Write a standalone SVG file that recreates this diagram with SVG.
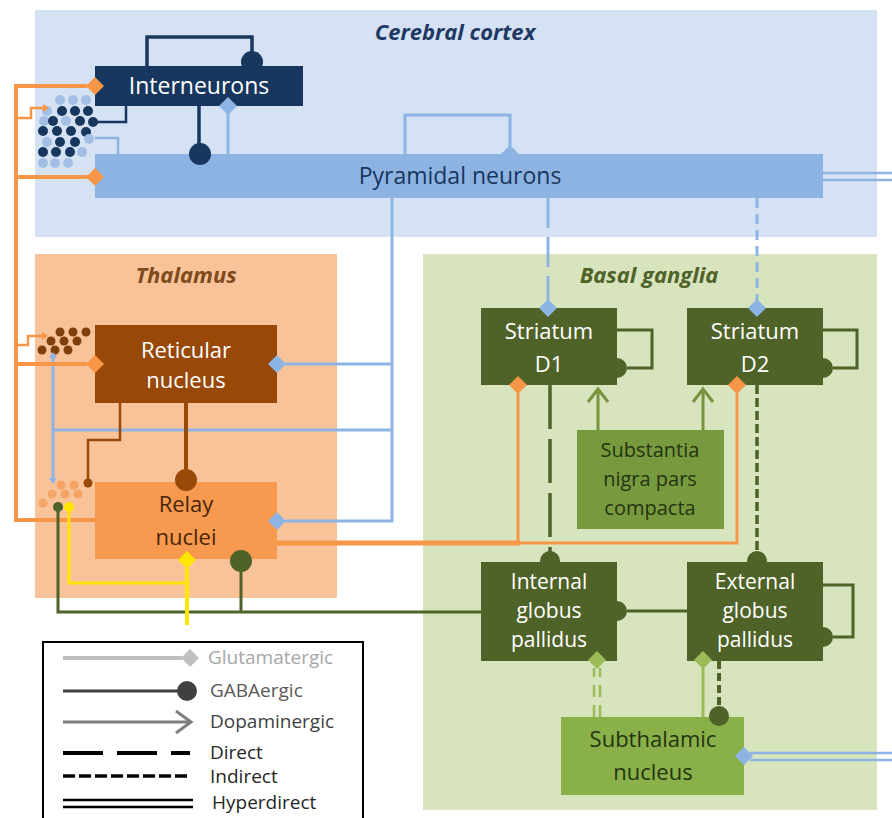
<svg xmlns="http://www.w3.org/2000/svg" width="892" height="818" viewBox="0 0 892 818">
<style>
text{font-family:"Open Sans","Liberation Sans",sans-serif;}
.lbl{font-size:22px;text-anchor:middle;}
.title{font-size:22px;font-weight:bold;font-style:italic;text-anchor:middle;}
.leg{font-size:19px;}
.ln{fill:none;stroke-linejoin:miter;}
.navy{stroke:#17375e;stroke-width:3.5;}
.blue{stroke:#8eb4e3;stroke-width:3;}
.orng{stroke:#f79646;stroke-width:4;}
.orth{stroke:#f79646;stroke-width:2.5;}
.brwn{stroke:#984807;stroke-width:4;}
.brth{stroke:#984807;stroke-width:2.5;}
.dg{stroke:#4f6228;stroke-width:3;}
.lg{stroke:#9bbb59;stroke-width:3;}
.sn{stroke:#77933c;stroke-width:3;}
.yel{stroke:#ffe600;stroke-width:4;}
.fnavy{fill:#17375e;}
.fblue{fill:#8eb4e3;}
.forng{fill:#f79646;}
.fbrwn{fill:#984807;}
.fdg{fill:#4f6228;}
.flg{fill:#9bbb59;}
.fyel{fill:#ffe600;}
.dn{fill:#17375e;}
.dl{fill:#a3bfe6;}
.db{fill:#7f3f0a;}
.do{fill:#f3a466;}
</style>
<defs>
<path id="dia" d="M0,-9 L9,0 L0,9 L-9,0Z"/>
</defs>
<rect width="892" height="818" fill="#ffffff"/>
<g id="regions">
<rect id="cortex" x="35" y="10" width="842" height="227" fill="#d5e2f3"/>
<text class="title" x="455" y="40" fill="#1f3864">Cerebral cortex</text>
<rect id="thalamus" x="35" y="254" width="302" height="344" fill="#f9c39a"/>
<text class="title" x="186" y="283" fill="#7f4a1c">Thalamus</text>
<rect id="basal-ganglia" x="423" y="254" width="454" height="556" fill="#d7e4bd"/>
<text class="title" x="649" y="283" fill="#4f6228">Basal ganglia</text>
</g>
<g id="interneurons">
<rect x="95" y="66" width="208" height="40" fill="#17375e"/>
<text class="lbl" x="199" y="94" fill="#ffffff" style="font-size:23px">Interneurons</text>
</g>
<g id="pyramidal">
<rect x="95" y="154" width="728" height="44" fill="#8db3e2"/>
<text class="lbl" x="460" y="184" fill="#17375e" style="font-size:23px">Pyramidal neurons</text>
</g>
<g id="reticular">
<rect x="95" y="325" width="182" height="78" fill="#984807"/>
<text class="lbl" x="186" y="358" fill="#ffffff">Reticular</text>
<text class="lbl" x="186" y="388" fill="#ffffff">nucleus</text>
</g>
<g id="relay">
<rect x="95" y="482" width="182" height="77" fill="#f79a50"/>
<text class="lbl" x="186" y="512" fill="#4a2508">Relay</text>
<text class="lbl" x="186" y="545" fill="#4a2508">nuclei</text>
</g>
<g id="striatum-d1">
<rect x="481" y="308" width="136" height="77" fill="#4f6228"/>
<text class="lbl" x="549" y="339" fill="#ffffff">Striatum</text>
<text class="lbl" x="549" y="372" fill="#ffffff">D1</text>
</g>
<g id="striatum-d2">
<rect x="687" y="308" width="136" height="77" fill="#4f6228"/>
<text class="lbl" x="755" y="339" fill="#ffffff">Striatum</text>
<text class="lbl" x="755" y="372" fill="#ffffff">D2</text>
</g>
<g id="snc">
<rect x="577" y="430" width="147" height="99" fill="#789a3e"/>
<text class="lbl" x="650" y="457" fill="#243410" style="font-size:20px">Substantia</text>
<text class="lbl" x="650" y="486" fill="#243410" style="font-size:20px">nigra pars</text>
<text class="lbl" x="650" y="515" fill="#243410" style="font-size:20px">compacta</text>
</g>
<g id="gpi">
<rect x="481" y="562" width="136" height="99" fill="#4f6228"/>
<text class="lbl" x="549" y="589" fill="#ffffff" style="font-size:21px">Internal</text>
<text class="lbl" x="549" y="618" fill="#ffffff" style="font-size:21px">globus</text>
<text class="lbl" x="549" y="647" fill="#ffffff" style="font-size:21px">pallidus</text>
</g>
<g id="gpe">
<rect x="687" y="562" width="136" height="99" fill="#4f6228"/>
<text class="lbl" x="755" y="589" fill="#ffffff" style="font-size:21px">External</text>
<text class="lbl" x="755" y="618" fill="#ffffff" style="font-size:21px">globus</text>
<text class="lbl" x="755" y="647" fill="#ffffff" style="font-size:21px">pallidus</text>
</g>
<g id="stn">
<rect x="561" y="717" width="183" height="78" fill="#8ab04a"/>
<text class="lbl" x="653" y="747" fill="#243410">Subthalamic</text>
<text class="lbl" x="653" y="780" fill="#243410">nucleus</text>
</g>
<g id="dots">
<circle class="dl" cx="60" cy="100" r="5"/><circle class="dl" cx="73" cy="100" r="5"/><circle class="dl" cx="86" cy="100" r="5"/>
<circle class="dl" cx="47" cy="111" r="5"/><circle class="dn" cx="62" cy="111" r="5"/><circle class="dn" cx="75" cy="111" r="5"/><circle class="dn" cx="88" cy="111" r="5"/>
<circle class="dl" cx="44" cy="121" r="5"/><circle class="dn" cx="53" cy="121" r="5"/><circle class="dl" cx="66" cy="121" r="5"/><circle class="dn" cx="80" cy="121" r="5"/><circle class="dn" cx="93" cy="122" r="5"/>
<circle class="dn" cx="43" cy="131" r="5"/><circle class="dn" cx="57" cy="131" r="5"/><circle class="dn" cx="71" cy="131" r="5"/><circle class="dn" cx="86" cy="132" r="5"/>
<circle class="dl" cx="47" cy="142" r="5"/><circle class="dn" cx="60" cy="142" r="5"/><circle class="dn" cx="75" cy="142" r="5"/><circle class="dl" cx="89" cy="139" r="5"/>
<circle class="dn" cx="43" cy="152" r="5"/><circle class="dn" cx="56" cy="152" r="5"/><circle class="dn" cx="70" cy="152" r="5"/><circle class="dl" cx="82" cy="152" r="5"/>
<circle class="dl" cx="43" cy="163" r="5"/><circle class="dl" cx="55" cy="163" r="5"/><circle class="dl" cx="68" cy="163" r="5"/>
<circle class="db" cx="60" cy="332" r="4.5"/><circle class="db" cx="73" cy="332" r="4.5"/><circle class="db" cx="86" cy="332" r="4.5"/>
<circle class="db" cx="51" cy="341" r="4.5"/><circle class="db" cx="64" cy="341" r="4.5"/><circle class="db" cx="77" cy="341" r="4.5"/>
<circle class="db" cx="42" cy="350" r="4.5"/><circle class="db" cx="55" cy="350" r="4.5"/><circle class="db" cx="68" cy="350" r="4.5"/>
<circle class="do" cx="61" cy="485" r="4.5"/><circle class="do" cx="74" cy="485" r="4.5"/>
<circle class="do" cx="52" cy="494" r="4.5"/><circle class="do" cx="65" cy="494" r="4.5"/><circle class="do" cx="78" cy="494" r="4.5"/>
<circle class="do" cx="43" cy="503" r="4.5"/>
</g>
<g id="connectors">
<path class="ln navy" d="M147,66 V37 H252 V56"/>
<circle class="fnavy" cx="252" cy="62" r="11"/>
<path class="ln navy" d="M199,106 V145"/>
<circle class="fnavy" cx="200" cy="154" r="11"/>
<path class="ln navy" d="M126,106 V122 H97" style="stroke-width:2.5"/>
<path class="ln blue" d="M228,154 V112"/>
<use href="#dia" x="228" y="106" class="fblue"/>
<path class="ln blue" d="M405,154 V115 H510 V148"/>
<use href="#dia" x="510" y="154" class="fblue"/>
<path class="ln blue" d="M118,154 V138 H95" style="stroke-width:2.5"/>
<path class="ln blue" d="M392,198 V521 H285"/>
<use href="#dia" x="277" y="521" class="fblue"/>
<path class="ln blue" d="M392,364 H285"/>
<use href="#dia" x="277" y="364" class="fblue"/>
<path class="ln blue" d="M392,430 H53 M53,430 V357 M53,430 V479"/>
<path class="fblue" d="M49,358 L53,352 L57,358Z M49,478 L53,484 L57,478Z"/>
<path class="ln blue" d="M548,198 V300" stroke-dasharray="30,9"/>
<use href="#dia" x="548" y="308" class="fblue"/>
<path class="ln blue" d="M757,198 V300" stroke-dasharray="10,6"/>
<use href="#dia" x="757" y="308" class="fblue"/>
<path class="ln blue" d="M823,173 H892 M823,180 H892" style="stroke-width:2.5"/>
<path class="ln blue" d="M892,753 H750 M892,760 H750" style="stroke-width:2.5"/>
<use href="#dia" x="744" y="756" class="fblue"/>
<path class="ln orng" d="M95,520 H16 V86 H87"/>
<use href="#dia" x="95" y="86" class="forng"/>
<path class="ln orng" d="M16,177 H87"/>
<use href="#dia" x="95" y="177" class="forng"/>
<path class="ln orng" d="M16,364 H87"/>
<use href="#dia" x="95" y="364" class="forng"/>
<path class="ln orth" d="M16,118 H31 V108 H44"/>
<path class="forng" d="M43,104 L49,108 L43,112Z"/>
<path class="ln orth" d="M16,345 H28 V336 H43"/>
<path class="forng" d="M42,332 L48,336 L42,340Z"/>
<path class="ln orng" d="M277,543 H520" style="stroke-width:5"/>
<path class="ln orng" d="M518,543 V393 M518,543 H737 V393" style="stroke-width:3"/>
<use href="#dia" x="518" y="385" class="forng"/>
<use href="#dia" x="737" y="385" class="forng"/>
<path class="ln brwn" d="M186,403 V469"/>
<circle class="fbrwn" cx="186" cy="480" r="11"/>
<path class="ln brth" d="M120,403 V440 H88 V479"/>
<circle class="fbrwn" cx="88" cy="483" r="4.5"/>
<path class="ln dg" d="M617,330 H652 V368 H627"/>
<circle class="fdg" cx="617" cy="368" r="10"/>
<path class="ln dg" d="M823,330 H857 V368 H833"/>
<circle class="fdg" cx="823" cy="368" r="10"/>
<path class="ln dg" d="M550,385 V552" stroke-dasharray="44,10" style="stroke-width:3.5"/>
<circle class="fdg" cx="550" cy="561" r="10"/>
<path class="ln dg" d="M757,385 V552" stroke-dasharray="9,4" style="stroke-width:3.5"/>
<circle class="fdg" cx="757" cy="561" r="10"/>
<path class="ln dg" d="M687,611 H627"/>
<circle class="fdg" cx="617" cy="611" r="10"/>
<path class="ln dg" d="M823,585 H853 V637 H833"/>
<circle class="fdg" cx="823" cy="637" r="10"/>
<path class="ln dg" d="M719,661 V708" stroke-dasharray="8,4" style="stroke-width:4"/>
<circle class="fdg" cx="719" cy="716" r="10"/>
<path class="ln dg" d="M481,612 H58 V507 M241,612 V570"/>
<circle class="fdg" cx="241" cy="561" r="11"/>
<circle class="fdg" cx="58" cy="507" r="5"/>
<path class="ln lg" d="M594,717 V668 M600,717 V668" stroke-dasharray="12,8" style="stroke-width:2.5"/>
<use href="#dia" x="597" y="660" class="flg"/>
<path class="ln lg" d="M703,717 V668"/>
<use href="#dia" x="703" y="660" class="flg"/>
<path class="ln sn" d="M598,430 V390 M588,402 L598,389 L608,402"/>
<path class="ln sn" d="M703,430 V390 M693,402 L703,389 L713,402"/>
<path class="ln yel" d="M187,625 V568"/>
<use href="#dia" x="187" y="560" class="fyel"/>
<path class="ln yel" d="M187,583 H69 V507" style="stroke-width:3"/>
<circle class="fyel" cx="69" cy="507" r="5"/>
</g>
<g id="legend">
<rect x="43" y="642" width="320" height="200" fill="#ffffff" stroke="#000000" stroke-width="2"/>
<path class="ln" d="M63,658 H182" stroke="#bfbfbf" stroke-width="4"/>
<use href="#dia" x="190" y="658" fill="#bfbfbf"/>
<text class="leg" x="208" y="664" fill="#a6a6a6">Glutamatergic</text>
<path class="ln" d="M63,691 H180" stroke="#404040" stroke-width="3"/>
<circle cx="187" cy="691" r="10" fill="#404040"/>
<text class="leg" x="210" y="697" fill="#595959">GABAergic</text>
<path class="ln" d="M63,722 H190 M176,711 L191,722 L176,733" stroke="#7f7f7f" stroke-width="3"/>
<text class="leg" x="210" y="728" fill="#404040">Dopaminergic</text>
<path class="ln" d="M63,753 H190" stroke="#000000" stroke-width="4" stroke-dasharray="40,14"/>
<text class="leg" x="210" y="759" fill="#262626">Direct</text>
<path class="ln" d="M63,776 H188" stroke="#000000" stroke-width="3.5" stroke-dasharray="12,4"/>
<text class="leg" x="210" y="783" fill="#262626">Indirect</text>
<path class="ln" d="M63,800 H193 M63,807 H193" stroke="#000000" stroke-width="2.5"/>
<text class="leg" x="212" y="809" fill="#262626">Hyperdirect</text>
</g>
</svg>
